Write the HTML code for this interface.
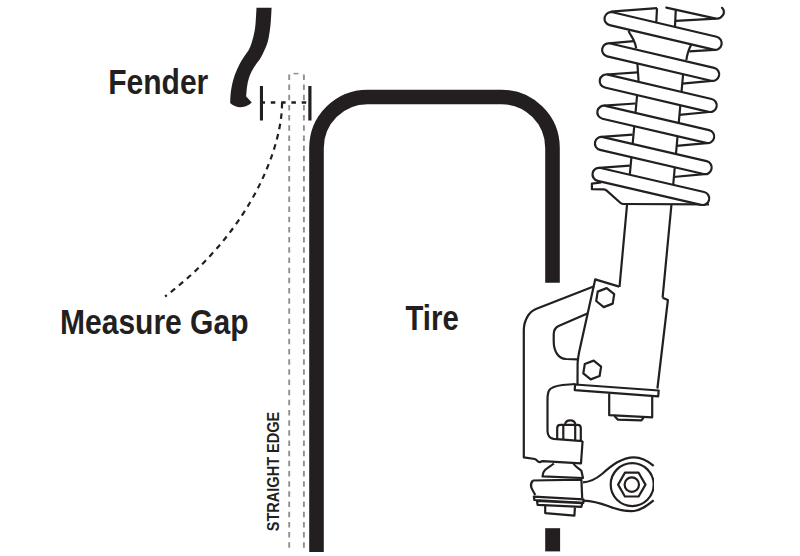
<!DOCTYPE html><html><head><meta charset="utf-8"><style>html,body{margin:0;padding:0;background:#fff;width:800px;height:556px;overflow:hidden}svg{display:block}</style></head><body><svg width="800" height="556" viewBox="0 0 800 556">
<rect width="800" height="556" fill="#fff"/>
<path fill="#231f20" d="M256.5,7.8 L271.6,7.8 C271.5,10.1 271.1,17.6 270.8,21.6 C270.5,25.6 270.2,28.4 269.6,32.0 C269.0,35.6 268.6,39.3 267.2,43.5 C265.8,47.7 262.9,53.7 261.0,57.2 C259.1,60.7 257.5,62.0 255.9,64.4 C254.3,66.8 252.8,69.2 251.6,71.6 C250.4,74.0 249.5,76.2 248.7,78.8 C247.9,81.4 247.4,84.0 247.0,87.0 C246.6,90.0 246.3,94.9 246.2,96.5 L251.8,102.5 C248,106 243,107.5 239.4,107.3 C236,106.8 232,105 230.2,103 C230.3,101.5 230.3,96.8 230.6,94.0 C230.9,91.2 231.3,88.5 231.8,86.0 C232.3,83.5 232.9,81.2 233.6,78.8 C234.3,76.4 235.2,74.0 236.2,71.6 C237.2,69.2 238.2,66.8 239.4,64.4 C240.7,62.0 242.1,59.6 243.7,57.2 C245.2,54.8 247.4,52.4 248.7,50.0 C250.0,47.6 250.6,46.2 251.6,43.0 C252.6,39.8 253.9,34.6 254.6,31.0 C255.3,27.4 255.4,25.5 255.7,21.6 C256.0,17.7 256.4,10.1 256.5,7.8 Z"/>
<rect x="259.9" y="86" width="3.1" height="34.5" fill="#231f20"/>
<rect x="308.3" y="86" width="3.2" height="34.5" fill="#231f20"/>
<line x1="260.5" y1="102.5" x2="309" y2="102.5" stroke="#231f20" stroke-width="2.3" stroke-dasharray="4.5 5.8"/>
<path d="M282,103 C282.5,143 254.4,229 165.1,296.5" fill="none" stroke="#231f20" stroke-width="2.2" stroke-dasharray="5.5 5"/>
<line x1="289.2" y1="74.4" x2="289.2" y2="548" stroke="#909090" stroke-width="1.9" stroke-dasharray="5.5 4.67"/>
<line x1="303.9" y1="74.4" x2="303.9" y2="548" stroke="#909090" stroke-width="1.9" stroke-dasharray="5.5 4.67"/>
<line x1="293.5" y1="73.6" x2="298.5" y2="73.6" stroke="#909090" stroke-width="1.5"/>
<path d="M316.5,552 L316.5,148 A51,51 0 0 1 367.5,97 L501.5,97 A51,51 0 0 1 552.5,148 L552.5,282.7" fill="none" stroke="#231f20" stroke-width="14.6"/>
<rect x="545.2" y="528.2" width="14.9" height="23.2" fill="#231f20"/>
<text transform="translate(108.2,93.7) scale(0.87,1)" font-family="Liberation Sans" font-weight="bold" font-size="34.5" fill="#231f20">Fender</text>
<text transform="translate(60,334.1) scale(0.87,1)" font-family="Liberation Sans" font-weight="bold" font-size="34.5" fill="#231f20">Measure Gap</text>
<text transform="translate(405.5,329.8) scale(0.85,1)" font-family="Liberation Sans" font-weight="bold" font-size="34.5" fill="#231f20">Tire</text>
<text transform="translate(278.9,531.2) rotate(-90) scale(0.881,1)" font-family="Liberation Sans" font-weight="bold" font-size="16.5" fill="#231f20">STRAIGHT EDGE</text>
<path fill="none" stroke="#231f20" stroke-width="2.2" stroke-linejoin="round" d="M657,8.2 L656.2,24"/>
<path fill="none" stroke="#231f20" stroke-width="2.2" stroke-linejoin="round" d="M675.8,9.4 L675,26"/>
<path fill="none" stroke="#231f20" stroke-width="2.2" stroke-linejoin="round" d="M610.8,11.6 L657,8.2"/>
<path fill="none" stroke="#231f20" stroke-width="2.2" stroke-linejoin="round" d="M666.3,7.6 L716,18.6 C721,19.5 727,13 722,7.8" stroke-linecap="round"/>
<path fill="none" stroke="#231f20" stroke-width="2.2" stroke-linejoin="round" d="M675.8,20.8 L716,18.6"/>
<path fill="none" stroke="#231f20" stroke-width="2.2" stroke-linejoin="round" d="M628.6,30.7 C629.5,34 632.5,37 633.8,40.5 C635,43 635.8,45.5 636.2,48.5"/>
<path fill="none" stroke="#231f20" stroke-width="2.2" stroke-linejoin="round" d="M691.3,44.2 C689,49 687,54 686.4,60"/>
<path fill="none" stroke="#231f20" stroke-width="2.2" stroke-linejoin="round" d="M637.3,62 L638.5,80 L619.5,287"/>
<path fill="none" stroke="#231f20" stroke-width="2.2" stroke-linejoin="round" d="M683.3,72 L671.5,204 L662.6,297.7"/>
<path fill="none" stroke="#231f20" stroke-width="2.2" stroke-linejoin="round" d="M608.7,43.3 L633.8,41.1"/>
<path fill="none" stroke="#231f20" stroke-width="2.2" stroke-linejoin="round" d="M606.3,74.5 L637.5,72.3"/>
<path fill="none" stroke="#231f20" stroke-width="2.2" stroke-linejoin="round" d="M603.9,105.7 L635.4,103.5"/>
<path fill="none" stroke="#231f20" stroke-width="2.2" stroke-linejoin="round" d="M601.5,136.9 L632.6,134.7"/>
<path fill="none" stroke="#231f20" stroke-width="2.2" stroke-linejoin="round" d="M599.1,167.8 L629.8,165.6"/>
<path fill="none" stroke="#231f20" stroke-width="2.2" stroke-linejoin="round" d="M689.2,51.4 L714.1,49.8"/>
<path fill="none" stroke="#231f20" stroke-width="2.2" stroke-linejoin="round" d="M682.2,83.7 L711.6,80.9"/>
<path fill="none" stroke="#231f20" stroke-width="2.2" stroke-linejoin="round" d="M679.3,114.8 L709.1,112.0"/>
<path fill="none" stroke="#231f20" stroke-width="2.2" stroke-linejoin="round" d="M676.4,145.9 L706.6,143.1"/>
<path fill="none" stroke="#231f20" stroke-width="2.2" stroke-linejoin="round" d="M673.5,177.0 L704.1,174.2"/>
<path fill="#fff" stroke="none" d="M601.3,182.5 L591.9,183.7 L591.9,189.2 L603.8,189.4 C605,189.5 606,190 606.7,190.6 L620.6,203 C621.5,203.7 622.5,204 623.5,204 L709,204.3 L704,192 L601.3,170 Z"/><path fill="none" stroke="#231f20" stroke-width="2.2" stroke-linejoin="round" d="M601.3,182.5 L591.9,183.7 L591.9,189.2 L603.8,189.4 C605,189.5 606,190 606.7,190.6 L620.6,203 C621.5,203.7 622.5,204 623.5,204 L709,204.3"/>
<line x1="611.1" y1="18.7" x2="715.1" y2="43.2" stroke="#231f20" stroke-width="15.4" stroke-linecap="round"/>
<line x1="611.1" y1="18.7" x2="715.1" y2="43.2" stroke="#fff" stroke-width="11.0" stroke-linecap="round"/>
<line x1="608.7" y1="49.9" x2="712.6" y2="74.3" stroke="#231f20" stroke-width="15.4" stroke-linecap="round"/>
<line x1="608.7" y1="49.9" x2="712.6" y2="74.3" stroke="#fff" stroke-width="11.0" stroke-linecap="round"/>
<line x1="606.3" y1="81.1" x2="710.1" y2="105.4" stroke="#231f20" stroke-width="15.4" stroke-linecap="round"/>
<line x1="606.3" y1="81.1" x2="710.1" y2="105.4" stroke="#fff" stroke-width="11.0" stroke-linecap="round"/>
<line x1="603.9" y1="112.3" x2="707.6" y2="136.5" stroke="#231f20" stroke-width="15.4" stroke-linecap="round"/>
<line x1="603.9" y1="112.3" x2="707.6" y2="136.5" stroke="#fff" stroke-width="11.0" stroke-linecap="round"/>
<line x1="601.5" y1="143.5" x2="705.1" y2="167.6" stroke="#231f20" stroke-width="15.4" stroke-linecap="round"/>
<line x1="601.5" y1="143.5" x2="705.1" y2="167.6" stroke="#fff" stroke-width="11.0" stroke-linecap="round"/>
<line x1="599.1" y1="174.4" x2="702.6" y2="198.4" stroke="#231f20" stroke-width="15.4" stroke-linecap="round"/>
<line x1="599.1" y1="174.4" x2="702.6" y2="198.4" stroke="#fff" stroke-width="11.0" stroke-linecap="round"/>
<path fill="none" stroke="#231f20" stroke-width="2.2" stroke-linejoin="round" d="M619.2,286.6 L595.2,279.4 L579.8,349 Q577.8,358 577.6,364 L577.5,384.5"/>
<path fill="none" stroke="#231f20" stroke-width="2.2" stroke-linejoin="round" d="M662.6,297.7 L667.9,300 L657.4,388.5"/>
<path fill="none" stroke="#231f20" stroke-width="2.2" stroke-linejoin="round" d="M594.2,286.2 L535.9,309.1 C529,312 524,320 523.8,330 L523.8,457.4 L534.8,459 C537,459.6 537.6,462.2 539.4,462.2 C540.6,462.2 541,461.2 542.6,461.2 L581,463.3 L582.6,441"/>
<path fill="none" stroke="#231f20" stroke-width="2.2" stroke-linejoin="round" d="M588,313.3 L558.6,326.1 C555.5,327.6 553.7,330 553.7,334.5 L553.7,341 C553.7,351 558,358.5 566,359 L578,359.3"/>
<path fill="none" stroke="#231f20" stroke-width="2.2" stroke-linejoin="round" d="M575.4,384 L562.6,385 C556,385.8 551,387 549,390.5 C547.8,393 547.5,396 547.5,400 L547.5,431 C547.6,435 549,438 553.5,438.9 L582.6,441.2"/>
<polygon fill="none" stroke="#231f20" stroke-width="2.2" stroke-linejoin="round" points="606.7,288.1 614.2,294.2 612.7,303.6 603.7,307.1 596.2,301.0 597.7,291.6"/>
<polygon fill="none" stroke="#231f20" stroke-width="2.2" stroke-linejoin="round" points="593.7,360.6 601.1,366.6 599.6,376.0 590.7,379.4 583.3,373.4 584.8,364.0"/>
<path fill="#fff" stroke="#231f20" stroke-width="2.2" stroke-linejoin="round" d="M575.1,384.5 L658.7,390.5 L658.2,396.3 L574.7,390.2 Z"/>
<path fill="none" stroke="#231f20" stroke-width="2.2" stroke-linejoin="round" d="M609.2,393.4 L609.2,415.2 L652.2,417.3 L652.2,395.8"/>
<path fill="none" stroke="#231f20" stroke-width="2.2" stroke-linejoin="round" d="M614.5,416 L617.7,419.6 L641.2,420.4 L643.6,417.7"/>
<path fill="none" stroke="#231f20" stroke-width="2.2" stroke-linejoin="round" d="M557.2,439 L557.2,428 C557.2,426 558.5,424.8 560.5,424.8 L577.5,424.8 C579.5,424.8 580.8,426 580.8,428 L580.8,440.5"/>
<path fill="none" stroke="#231f20" stroke-width="2.2" stroke-linejoin="round" d="M563.3,424.8 L563.3,439.3 M575.2,424.8 L575.2,440.2"/>
<path fill="none" stroke="#231f20" stroke-width="2.2" stroke-linejoin="round" d="M565.2,424 C565.5,421.3 567.5,420.3 570.2,420.3 C573,420.3 574.9,421.3 575.2,424"/>
<path fill="none" stroke="#231f20" stroke-width="2.2" stroke-linejoin="round" d="M553.8,463.5 C551,466 547,468 545,470 C543,472 542.5,474 542.5,476.4 L583,478 L581.4,470.8 C578,468 575,466 573.3,463.5"/>
<path fill="none" stroke="#231f20" stroke-width="2.2" stroke-linejoin="round" d="M532.8,480.5 L581.4,479.7 L582.2,498.3 M532.8,480.5 C531,483 530.5,485 531.2,487 C532,490 534,492 535.2,495"/>
<path fill="#fff" stroke="#231f20" stroke-width="2.2" stroke-linejoin="round" d="M533.8,496.6 L583.4,499.4 L583.4,502.8 L534.4,500 Z"/>
<path fill="#fff" stroke="#231f20" stroke-width="2.2" stroke-linejoin="round" d="M537,501 L582.3,503.2 L581.4,506.8 L537.6,504.9 Z"/>
<path fill="none" stroke="#231f20" stroke-width="2.2" stroke-linejoin="round" d="M545.2,506 L545.2,513.1 L574.4,515.6 L574.9,507.5"/>
<path fill="none" stroke="#231f20" stroke-width="2.2" stroke-linejoin="round" d="M583,482.3 C590,482 596,479 602,474 C612,465 622,457.3 634,457.3 C642,457.3 648,461 653.7,465.8"/>
<path fill="none" stroke="#231f20" stroke-width="2.2" stroke-linejoin="round" d="M583.6,500.6 C592,501 600,503 608,506 C618,510 626,511.5 634,511 C642,510 648,505 653.7,500.3"/>
<clipPath id="cl"><rect x="0" y="0" width="654" height="556"/></clipPath>
<circle fill="none" stroke="#231f20" stroke-width="2.2" stroke-linejoin="round" clip-path="url(#cl)" cx="632.2" cy="484.6" r="21.5"/>
<polygon fill="none" stroke="#231f20" stroke-width="2.2" stroke-linejoin="round" points="645.5,484.6 638.6,496.5 624.9,496.5 618.1,484.6 624.9,472.7 638.6,472.7"/>
<circle fill="none" stroke="#231f20" stroke-width="2.2" stroke-linejoin="round" cx="631.8" cy="484.6" r="7.2"/>
</svg></body></html>
